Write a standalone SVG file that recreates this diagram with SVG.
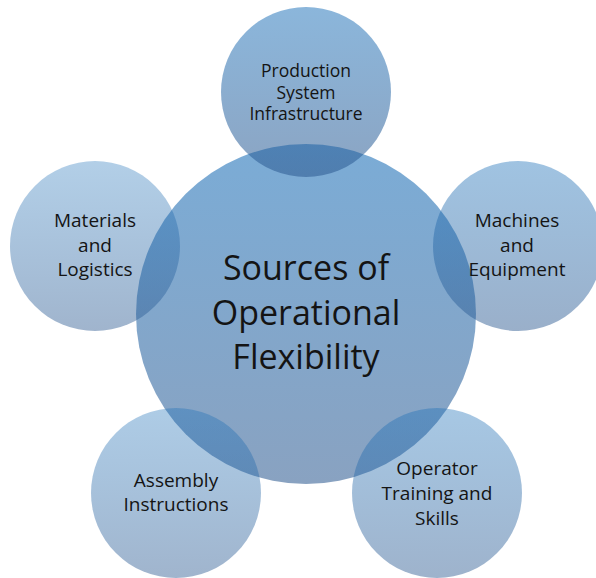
<svg xmlns="http://www.w3.org/2000/svg" width="596" height="578" viewBox="0 0 596 578">
  <defs>
    <linearGradient id="gCenter" x1="0" y1="0" x2="0" y2="1">
      <stop offset="0" stop-color="#176DB7" stop-opacity="0.57"/>
      <stop offset="1" stop-color="#2C5990" stop-opacity="0.56"/>
    </linearGradient>
    <linearGradient id="gTop" x1="0" y1="0" x2="0" y2="1">
      <stop offset="0" stop-color="#176DB7" stop-opacity="0.5"/>
      <stop offset="1" stop-color="#2C5990" stop-opacity="0.55"/>
    </linearGradient>
    <linearGradient id="gRight" x1="0" y1="0" x2="0" y2="1">
      <stop offset="0" stop-color="#176DB7" stop-opacity="0.41"/>
      <stop offset="1" stop-color="#2C5990" stop-opacity="0.48"/>
    </linearGradient>
    <linearGradient id="gLeft" x1="0" y1="0" x2="0" y2="1">
      <stop offset="0" stop-color="#176DB7" stop-opacity="0.33"/>
      <stop offset="1" stop-color="#2C5990" stop-opacity="0.45"/>
    </linearGradient>
    <linearGradient id="gBL" x1="0" y1="0" x2="0" y2="1">
      <stop offset="0" stop-color="#176DB7" stop-opacity="0.35"/>
      <stop offset="1" stop-color="#2C5990" stop-opacity="0.45"/>
    </linearGradient>
    <linearGradient id="gBR" x1="0" y1="0" x2="0" y2="1">
      <stop offset="0" stop-color="#176DB7" stop-opacity="0.38"/>
      <stop offset="1" stop-color="#2C5990" stop-opacity="0.46"/>
    </linearGradient>
  </defs>
  <style>
    text { font-family: "Open Sans", "Liberation Sans", sans-serif; fill: #141414; text-anchor: middle; }
    .sat { font-size: 19px; }
    .top { font-size: 17.5px; }
    .main { font-size: 34px; }
  </style>
  <rect width="596" height="578" fill="#ffffff"/>
  <g id="center-circle">
    <circle cx="306" cy="314" r="170" fill="url(#gCenter)"/>
  </g>
  <g id="production">
    <circle cx="306" cy="92" r="85" fill="url(#gTop)"/>
  </g>
  <g id="machines">
    <circle cx="518" cy="246" r="85" fill="url(#gRight)"/>
  </g>
  <g id="materials">
    <circle cx="95" cy="246" r="85" fill="url(#gLeft)"/>
  </g>
  <g id="assembly">
    <circle cx="176" cy="493" r="85" fill="url(#gBL)"/>
  </g>
  <g id="operator">
    <circle cx="437" cy="493" r="85" fill="url(#gBR)"/>
  </g>
  <g id="labels">
    <text class="main" x="306" y="280">Sources of</text>
    <text class="main" x="306" y="325">Operational</text>
    <text class="main" x="306" y="369">Flexibility</text>
    <text class="top" x="306" y="77">Production</text>
    <text class="top" x="306" y="98.5">System</text>
    <text class="top" x="306" y="120">Infrastructure</text>
    <text class="sat" x="517" y="227">Machines</text>
    <text class="sat" x="517" y="251.5">and</text>
    <text class="sat" x="517" y="276">Equipment</text>
    <text class="sat" x="95" y="227">Materials</text>
    <text class="sat" x="95" y="251.5">and</text>
    <text class="sat" x="95" y="276">Logistics</text>
    <text class="sat" x="176" y="487">Assembly</text>
    <text class="sat" x="176" y="511">Instructions</text>
    <text class="sat" x="437" y="475">Operator</text>
    <text class="sat" x="437" y="500">Training and</text>
    <text class="sat" x="437" y="525">Skills</text>
  </g>
</svg>
